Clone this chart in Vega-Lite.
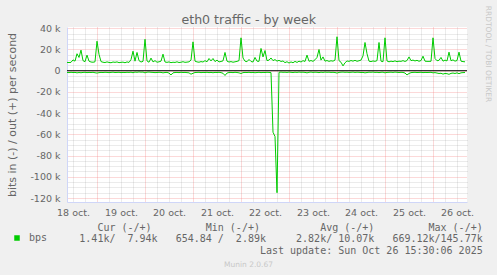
{
"$schema": "https://vega.github.io/schema/vega-lite/v6.json",
"width": 400, "height": 175,
"autosize": {"type": "none"},
"padding": {"left": 67, "top": 27, "right": 30, "bottom": 73},
"background": "#F0F0F0",
"config": {
  "view": {"fill": "#FFFFFF", "stroke": null},
  "font": "DejaVu Sans",
  "axis": {"labelFont": "DejaVu Sans", "titleFont": "DejaVu Sans", "labelColor": "#666666", "titleColor": "#666666", "titleFontWeight": "normal", "ticks": false, "gridDash": [1, 1], "gridWidth": 1, "labelFontSize": 9.5, "domain": false}
},
"datasets": {"traffic": [
{"t":"2025-10-18T09:00Z","out":7800,"inbound":-1600},
{"t":"2025-10-18T10:00Z","out":7700,"inbound":-1800},
{"t":"2025-10-18T11:00Z","out":7900,"inbound":-1500},
{"t":"2025-10-18T12:00Z","out":10200,"inbound":-1700},
{"t":"2025-10-18T13:00Z","out":9000,"inbound":-1600},
{"t":"2025-10-18T14:00Z","out":16000,"inbound":-2000},
{"t":"2025-10-18T15:00Z","out":12500,"inbound":-1700},
{"t":"2025-10-18T16:00Z","out":19400,"inbound":-1900},
{"t":"2025-10-18T17:00Z","out":9500,"inbound":-1600},
{"t":"2025-10-18T18:00Z","out":8500,"inbound":-1500},
{"t":"2025-10-18T19:00Z","out":14700,"inbound":-1800},
{"t":"2025-10-18T20:00Z","out":9000,"inbound":-1600},
{"t":"2025-10-18T21:00Z","out":8200,"inbound":-1700},
{"t":"2025-10-18T22:00Z","out":8000,"inbound":-1500},
{"t":"2025-10-18T23:00Z","out":8400,"inbound":-1900},
{"t":"2025-10-19T00:00Z","out":27800,"inbound":-2200},
{"t":"2025-10-19T01:00Z","out":15500,"inbound":-1800},
{"t":"2025-10-19T02:00Z","out":8600,"inbound":-1600},
{"t":"2025-10-19T03:00Z","out":8000,"inbound":-1700},
{"t":"2025-10-19T04:00Z","out":7700,"inbound":-1500},
{"t":"2025-10-19T05:00Z","out":8300,"inbound":-1600},
{"t":"2025-10-19T06:00Z","out":7800,"inbound":-1800},
{"t":"2025-10-19T07:00Z","out":7500,"inbound":-1600},
{"t":"2025-10-19T08:00Z","out":8200,"inbound":-1400},
{"t":"2025-10-19T09:00Z","out":7900,"inbound":-1700},
{"t":"2025-10-19T10:00Z","out":8300,"inbound":-1600},
{"t":"2025-10-19T11:00Z","out":7600,"inbound":-1500},
{"t":"2025-10-19T12:00Z","out":7900,"inbound":-1800},
{"t":"2025-10-19T13:00Z","out":8100,"inbound":-1600},
{"t":"2025-10-19T14:00Z","out":7500,"inbound":-1700},
{"t":"2025-10-19T15:00Z","out":8300,"inbound":-1500},
{"t":"2025-10-19T16:00Z","out":7800,"inbound":-1600},
{"t":"2025-10-19T17:00Z","out":10500,"inbound":-1400},
{"t":"2025-10-19T18:00Z","out":18400,"inbound":-1900},
{"t":"2025-10-19T19:00Z","out":9000,"inbound":-1300},
{"t":"2025-10-19T20:00Z","out":17200,"inbound":-1500},
{"t":"2025-10-19T21:00Z","out":9500,"inbound":-1200},
{"t":"2025-10-19T22:00Z","out":8200,"inbound":-1400},
{"t":"2025-10-19T23:00Z","out":8800,"inbound":-1300},
{"t":"2025-10-20T00:00Z","out":29600,"inbound":-2000},
{"t":"2025-10-20T01:00Z","out":9200,"inbound":-1400},
{"t":"2025-10-20T02:00Z","out":8000,"inbound":-1300},
{"t":"2025-10-20T03:00Z","out":11900,"inbound":-1500},
{"t":"2025-10-20T04:00Z","out":8300,"inbound":-1600},
{"t":"2025-10-20T05:00Z","out":9500,"inbound":-1800},
{"t":"2025-10-20T06:00Z","out":8000,"inbound":-1700},
{"t":"2025-10-20T07:00Z","out":8400,"inbound":-1500},
{"t":"2025-10-20T08:00Z","out":9000,"inbound":-1600},
{"t":"2025-10-20T09:00Z","out":15600,"inbound":-2000},
{"t":"2025-10-20T10:00Z","out":8200,"inbound":-1700},
{"t":"2025-10-20T11:00Z","out":7900,"inbound":-1600},
{"t":"2025-10-20T12:00Z","out":8300,"inbound":-2200},
{"t":"2025-10-20T13:00Z","out":7600,"inbound":-4000},
{"t":"2025-10-20T14:00Z","out":8000,"inbound":-2000},
{"t":"2025-10-20T15:00Z","out":7800,"inbound":-1700},
{"t":"2025-10-20T16:00Z","out":8400,"inbound":-1600},
{"t":"2025-10-20T17:00Z","out":7700,"inbound":-1800},
{"t":"2025-10-20T18:00Z","out":8000,"inbound":-1500},
{"t":"2025-10-20T19:00Z","out":8500,"inbound":-1700},
{"t":"2025-10-20T20:00Z","out":7900,"inbound":-1600},
{"t":"2025-10-20T21:00Z","out":8100,"inbound":-1800},
{"t":"2025-10-20T22:00Z","out":8400,"inbound":-2000},
{"t":"2025-10-20T23:00Z","out":10000,"inbound":-3300},
{"t":"2025-10-21T00:00Z","out":27200,"inbound":-2400},
{"t":"2025-10-21T01:00Z","out":9000,"inbound":-1700},
{"t":"2025-10-21T02:00Z","out":8300,"inbound":-1600},
{"t":"2025-10-21T03:00Z","out":8000,"inbound":-1500},
{"t":"2025-10-21T04:00Z","out":8600,"inbound":-1800},
{"t":"2025-10-21T05:00Z","out":8200,"inbound":-1600},
{"t":"2025-10-21T06:00Z","out":9500,"inbound":-1700},
{"t":"2025-10-21T07:00Z","out":8400,"inbound":-1500},
{"t":"2025-10-21T08:00Z","out":11500,"inbound":-1800},
{"t":"2025-10-21T09:00Z","out":9200,"inbound":-1600},
{"t":"2025-10-21T10:00Z","out":11500,"inbound":-1900},
{"t":"2025-10-21T11:00Z","out":8600,"inbound":-1600},
{"t":"2025-10-21T12:00Z","out":10000,"inbound":-1700},
{"t":"2025-10-21T13:00Z","out":8300,"inbound":-1500},
{"t":"2025-10-21T14:00Z","out":8700,"inbound":-1800},
{"t":"2025-10-21T15:00Z","out":9300,"inbound":-2400},
{"t":"2025-10-21T16:00Z","out":17200,"inbound":-4500},
{"t":"2025-10-21T17:00Z","out":9000,"inbound":-2200},
{"t":"2025-10-21T18:00Z","out":8200,"inbound":-1700},
{"t":"2025-10-21T19:00Z","out":8600,"inbound":-1600},
{"t":"2025-10-21T20:00Z","out":8000,"inbound":-1800},
{"t":"2025-10-21T21:00Z","out":8400,"inbound":-1500},
{"t":"2025-10-21T22:00Z","out":8800,"inbound":-1700},
{"t":"2025-10-21T23:00Z","out":9500,"inbound":-2000},
{"t":"2025-10-22T00:00Z","out":31000,"inbound":-2600},
{"t":"2025-10-22T01:00Z","out":12000,"inbound":-1800},
{"t":"2025-10-22T02:00Z","out":9000,"inbound":-1600},
{"t":"2025-10-22T03:00Z","out":8500,"inbound":-1700},
{"t":"2025-10-22T04:00Z","out":10600,"inbound":-1500},
{"t":"2025-10-22T05:00Z","out":8700,"inbound":-1800},
{"t":"2025-10-22T06:00Z","out":8200,"inbound":-1600},
{"t":"2025-10-22T07:00Z","out":12500,"inbound":-1900},
{"t":"2025-10-22T08:00Z","out":9000,"inbound":-1700},
{"t":"2025-10-22T09:00Z","out":8800,"inbound":-1500},
{"t":"2025-10-22T10:00Z","out":21000,"inbound":-1800},
{"t":"2025-10-22T11:00Z","out":13000,"inbound":-1600},
{"t":"2025-10-22T12:00Z","out":19000,"inbound":-1700},
{"t":"2025-10-22T13:00Z","out":9500,"inbound":-1500},
{"t":"2025-10-22T14:00Z","out":10000,"inbound":-1600},
{"t":"2025-10-22T15:00Z","out":12000,"inbound":-1800},
{"t":"2025-10-22T16:00Z","out":9500,"inbound":-58000},
{"t":"2025-10-22T17:00Z","out":10500,"inbound":-62000},
{"t":"2025-10-22T18:00Z","out":9000,"inbound":-115000},
{"t":"2025-10-22T19:00Z","out":9800,"inbound":-1500},
{"t":"2025-10-22T20:00Z","out":8700,"inbound":-1300},
{"t":"2025-10-22T21:00Z","out":9200,"inbound":-1500},
{"t":"2025-10-22T22:00Z","out":7600,"inbound":-1400},
{"t":"2025-10-22T23:00Z","out":8500,"inbound":-1600},
{"t":"2025-10-23T00:00Z","out":7200,"inbound":-1300},
{"t":"2025-10-23T01:00Z","out":8300,"inbound":-1500},
{"t":"2025-10-23T02:00Z","out":7500,"inbound":-1700},
{"t":"2025-10-23T03:00Z","out":8800,"inbound":-1400},
{"t":"2025-10-23T04:00Z","out":7800,"inbound":-1600},
{"t":"2025-10-23T05:00Z","out":9000,"inbound":-1300},
{"t":"2025-10-23T06:00Z","out":8200,"inbound":-1500},
{"t":"2025-10-23T07:00Z","out":9500,"inbound":-1400},
{"t":"2025-10-23T08:00Z","out":8700,"inbound":-1600},
{"t":"2025-10-23T09:00Z","out":14700,"inbound":-2000},
{"t":"2025-10-23T10:00Z","out":8900,"inbound":-1500},
{"t":"2025-10-23T11:00Z","out":9600,"inbound":-1300},
{"t":"2025-10-23T12:00Z","out":8800,"inbound":-1600},
{"t":"2025-10-23T13:00Z","out":10300,"inbound":-1400},
{"t":"2025-10-23T14:00Z","out":12500,"inbound":-1500},
{"t":"2025-10-23T15:00Z","out":20000,"inbound":-1800},
{"t":"2025-10-23T16:00Z","out":10000,"inbound":-1400},
{"t":"2025-10-23T17:00Z","out":13000,"inbound":-1600},
{"t":"2025-10-23T18:00Z","out":9000,"inbound":-1300},
{"t":"2025-10-23T19:00Z","out":9600,"inbound":-1500},
{"t":"2025-10-23T20:00Z","out":8800,"inbound":-1400},
{"t":"2025-10-23T21:00Z","out":9400,"inbound":-1600},
{"t":"2025-10-23T22:00Z","out":9000,"inbound":-1500},
{"t":"2025-10-23T23:00Z","out":10000,"inbound":-1700},
{"t":"2025-10-24T00:00Z","out":32000,"inbound":-2200},
{"t":"2025-10-24T01:00Z","out":9500,"inbound":-1600},
{"t":"2025-10-24T02:00Z","out":8000,"inbound":-1400},
{"t":"2025-10-24T03:00Z","out":4500,"inbound":-1300},
{"t":"2025-10-24T04:00Z","out":7500,"inbound":-1500},
{"t":"2025-10-24T05:00Z","out":9200,"inbound":-1400},
{"t":"2025-10-24T06:00Z","out":8800,"inbound":-1600},
{"t":"2025-10-24T07:00Z","out":9600,"inbound":-1500},
{"t":"2025-10-24T08:00Z","out":9000,"inbound":-1300},
{"t":"2025-10-24T09:00Z","out":9800,"inbound":-1600},
{"t":"2025-10-24T10:00Z","out":8900,"inbound":-1400},
{"t":"2025-10-24T11:00Z","out":9400,"inbound":-1500},
{"t":"2025-10-24T12:00Z","out":10000,"inbound":-1700},
{"t":"2025-10-24T13:00Z","out":14000,"inbound":-1600},
{"t":"2025-10-24T14:00Z","out":26600,"inbound":-2000},
{"t":"2025-10-24T15:00Z","out":16000,"inbound":-1700},
{"t":"2025-10-24T16:00Z","out":9000,"inbound":-1400},
{"t":"2025-10-24T17:00Z","out":8600,"inbound":-1500},
{"t":"2025-10-24T18:00Z","out":9200,"inbound":-1300},
{"t":"2025-10-24T19:00Z","out":8800,"inbound":-1600},
{"t":"2025-10-24T20:00Z","out":9500,"inbound":-1500},
{"t":"2025-10-24T21:00Z","out":26600,"inbound":-1800},
{"t":"2025-10-24T22:00Z","out":9000,"inbound":-1500},
{"t":"2025-10-24T23:00Z","out":8500,"inbound":-1400},
{"t":"2025-10-25T00:00Z","out":31000,"inbound":-2000},
{"t":"2025-10-25T01:00Z","out":9200,"inbound":-1600},
{"t":"2025-10-25T02:00Z","out":8400,"inbound":-1500},
{"t":"2025-10-25T03:00Z","out":9000,"inbound":-1400},
{"t":"2025-10-25T04:00Z","out":8600,"inbound":-1600},
{"t":"2025-10-25T05:00Z","out":9300,"inbound":-1300},
{"t":"2025-10-25T06:00Z","out":8500,"inbound":-1500},
{"t":"2025-10-25T07:00Z","out":9000,"inbound":-1700},
{"t":"2025-10-25T08:00Z","out":8800,"inbound":-1500},
{"t":"2025-10-25T09:00Z","out":9500,"inbound":-1600},
{"t":"2025-10-25T10:00Z","out":8700,"inbound":-2200},
{"t":"2025-10-25T11:00Z","out":9600,"inbound":-4000},
{"t":"2025-10-25T12:00Z","out":13000,"inbound":-2600},
{"t":"2025-10-25T13:00Z","out":9500,"inbound":-1800},
{"t":"2025-10-25T14:00Z","out":10000,"inbound":-1600},
{"t":"2025-10-25T15:00Z","out":9200,"inbound":-1500},
{"t":"2025-10-25T16:00Z","out":9800,"inbound":-1700},
{"t":"2025-10-25T17:00Z","out":8900,"inbound":-1600},
{"t":"2025-10-25T18:00Z","out":9600,"inbound":-1500},
{"t":"2025-10-25T19:00Z","out":13700,"inbound":-1800},
{"t":"2025-10-25T20:00Z","out":9000,"inbound":-1600},
{"t":"2025-10-25T21:00Z","out":8800,"inbound":-1700},
{"t":"2025-10-25T22:00Z","out":8800,"inbound":-1600},
{"t":"2025-10-25T23:00Z","out":8900,"inbound":-1500},
{"t":"2025-10-26T00:00Z","out":31000,"inbound":-2000},
{"t":"2025-10-26T01:00Z","out":11500,"inbound":-1800},
{"t":"2025-10-26T02:00Z","out":9400,"inbound":-2200},
{"t":"2025-10-26T03:00Z","out":9800,"inbound":-2600},
{"t":"2025-10-26T04:00Z","out":12500,"inbound":-2400},
{"t":"2025-10-26T05:00Z","out":9000,"inbound":-3200},
{"t":"2025-10-26T06:00Z","out":10000,"inbound":-2600},
{"t":"2025-10-26T07:00Z","out":9200,"inbound":-2800},
{"t":"2025-10-26T08:00Z","out":17500,"inbound":-3400},
{"t":"2025-10-26T09:00Z","out":9400,"inbound":-2500},
{"t":"2025-10-26T10:00Z","out":10200,"inbound":-2200},
{"t":"2025-10-26T11:00Z","out":9000,"inbound":-2600},
{"t":"2025-10-26T12:00Z","out":9600,"inbound":-2000},
{"t":"2025-10-26T13:00Z","out":17500,"inbound":-2800},
{"t":"2025-10-26T14:00Z","out":9000,"inbound":-2000},
{"t":"2025-10-26T15:00Z","out":8600,"inbound":-1800},
{"t":"2025-10-26T16:00Z","out":8400,"inbound":-1700}
]},
"layer": [
  {
    "layer": [
      {
        "data": {"name": "traffic"},
        "mark": {"type": "line", "strokeWidth": 1},
        "encoding": {
          "x": {"field": "t", "type": "temporal",
            "scale": {"type": "utc", "nice": false, "domain": [{"year": 2025, "month": 10, "date": 18, "hours": 9, "utc": true}, {"year": 2025, "month": 10, "date": 26, "hours": 17, "utc": true}]},
            "axis": {"orient": "bottom",
              "values": [
                {"year": 2025, "month": 10, "date": 18, "hours": 12, "utc": true}, {"year": 2025, "month": 10, "date": 18, "hours": 18, "utc": true},
                {"year": 2025, "month": 10, "date": 19, "hours": 6, "utc": true}, {"year": 2025, "month": 10, "date": 19, "hours": 12, "utc": true}, {"year": 2025, "month": 10, "date": 19, "hours": 18, "utc": true},
                {"year": 2025, "month": 10, "date": 20, "hours": 6, "utc": true}, {"year": 2025, "month": 10, "date": 20, "hours": 12, "utc": true}, {"year": 2025, "month": 10, "date": 20, "hours": 18, "utc": true},
                {"year": 2025, "month": 10, "date": 21, "hours": 6, "utc": true}, {"year": 2025, "month": 10, "date": 21, "hours": 12, "utc": true}, {"year": 2025, "month": 10, "date": 21, "hours": 18, "utc": true},
                {"year": 2025, "month": 10, "date": 22, "hours": 6, "utc": true}, {"year": 2025, "month": 10, "date": 22, "hours": 12, "utc": true}, {"year": 2025, "month": 10, "date": 22, "hours": 18, "utc": true},
                {"year": 2025, "month": 10, "date": 23, "hours": 6, "utc": true}, {"year": 2025, "month": 10, "date": 23, "hours": 12, "utc": true}, {"year": 2025, "month": 10, "date": 23, "hours": 18, "utc": true},
                {"year": 2025, "month": 10, "date": 24, "hours": 6, "utc": true}, {"year": 2025, "month": 10, "date": 24, "hours": 12, "utc": true}, {"year": 2025, "month": 10, "date": 24, "hours": 18, "utc": true},
                {"year": 2025, "month": 10, "date": 25, "hours": 6, "utc": true}, {"year": 2025, "month": 10, "date": 25, "hours": 12, "utc": true}, {"year": 2025, "month": 10, "date": 25, "hours": 18, "utc": true},
                {"year": 2025, "month": 10, "date": 26, "hours": 6, "utc": true}, {"year": 2025, "month": 10, "date": 26, "hours": 12, "utc": true}
              ],
              "labelExpr": "utchours(datum.value) == 12 ? utcFormat(datum.value, '%d') + ' oct.' : ''",
              "labelFlush": false, "labelOverlap": false, "labelBound": false, "labelPadding": 5,
              "grid": true, "gridColor": "#8C8C8C", "gridOpacity": 0.35,
              "domain": true, "domainColor": "#CFD6F8",
              "title": "Munin 2.0.67", "titleFontSize": 7.5, "titleColor": "#C8C8C8", "titleX": 181, "titleY": 62, "titleAlign": "center", "titleBaseline": "middle", "titleAngle": 0}},
          "y": {"field": "out", "type": "quantitative",
            "scale": {"domain": [-123750, 41200], "nice": false, "zero": false},
            "axis": {"orient": "left", "values": [-120000, -100000, -80000, -60000, -40000, -20000, 0, 20000, 40000],
              "labelExpr": "datum.value === 0 ? '0' : (datum.value / 1000) + ' k'", "labelPadding": 7, "labelBaseline": "middle",
              "grid": true, "gridColor": "#F58080", "gridOpacity": 0.6,
              "domain": true, "domainColor": "#CFD6F8",
              "title": "bits in (-) / out (+) per second", "titleFontSize": 11, "titleX": -55, "titleY": 87.5, "titleAngle": 270, "titleAlign": "center", "titleBaseline": "middle"}},
          "color": {"datum": "bps", "scale": {"domain": ["bps"], "range": ["#00CC00"]},
            "legend": {"orient": "none", "legendX": -55, "legendY": 206, "title": null, "symbolType": "square", "symbolSize": 4, "symbolStrokeWidth": 3.5, "labelFont": "DejaVu Sans Mono", "labelFontSize": 10, "labelColor": "#666666", "labelOffset": 7}}
        }
      },
      {
        "data": {"name": "traffic"},
        "mark": {"type": "line", "strokeWidth": 1},
        "encoding": {
          "x": {"field": "t", "type": "temporal",
            "scale": {"type": "utc", "nice": false, "domain": [{"year": 2025, "month": 10, "date": 18, "hours": 9, "utc": true}, {"year": 2025, "month": 10, "date": 26, "hours": 17, "utc": true}]},
            "axis": {"orient": "top",
              "values": [
                {"year": 2025, "month": 10, "date": 19, "utc": true}, {"year": 2025, "month": 10, "date": 20, "utc": true},
                {"year": 2025, "month": 10, "date": 21, "utc": true}, {"year": 2025, "month": 10, "date": 22, "utc": true},
                {"year": 2025, "month": 10, "date": 23, "utc": true}, {"year": 2025, "month": 10, "date": 24, "utc": true},
                {"year": 2025, "month": 10, "date": 25, "utc": true}, {"year": 2025, "month": 10, "date": 26, "utc": true}
              ],
              "labels": false, "grid": true, "gridColor": "#F58080", "gridOpacity": 0.6, "domain": false,
              "title": "eth0 traffic - by week", "titleFontSize": 12.6, "titleX": 181.3, "titleY": -3.7, "titleAlign": "center", "titleBaseline": "alphabetic", "titleAngle": 0}},
          "y": {"field": "inbound", "type": "quantitative",
            "scale": {"domain": [-123750, 41200], "nice": false, "zero": false},
            "axis": {"orient": "right", "values": [35000, 30000, 25000, 15000, 10000, 5000, -5000, -10000, -15000, -25000, -30000, -35000, -45000, -50000, -55000, -65000, -70000, -75000, -85000, -90000, -95000, -105000, -110000, -115000],
              "labels": false, "grid": true, "gridColor": "#8C8C8C", "gridOpacity": 0.35, "domain": false,
              "title": "RRDTOOL / TOBI OETIKER", "titleFontSize": 7.5, "titleColor": "#C8C8C8", "titleX": 20, "titleY": 26.5, "titleAngle": 90, "titleAlign": "center", "titleBaseline": "middle"}},
          "color": {"datum": "bps"}
        }
      },
      {
        "data": {"values": [{}]},
        "mark": {"type": "rule", "color": "#000000", "strokeWidth": 1},
        "encoding": {"y": {"datum": 0, "axis": null}}
      }
    ],
    "resolve": {"axis": {"x": "independent", "y": "independent"}}
  },
  {
    "data": {"values": [
      {"line": 0, "text": "Cur (-/+)\u00a0\u00a0\u00a0\u00a0\u00a0\u00a0\u00a0\u00a0\u00a0Min (-/+)\u00a0\u00a0\u00a0\u00a0\u00a0\u00a0\u00a0\u00a0\u00a0\u00a0Avg (-/+)\u00a0\u00a0\u00a0\u00a0\u00a0\u00a0\u00a0\u00a0\u00a0Max (-/+)\u00a0"},
      {"line": 1, "text": "1.41k/\u00a0\u00a07.94k\u00a0\u00a0\u00a0654.84 /\u00a0\u00a02.89k\u00a0\u00a0\u00a0\u00a0\u00a02.82k/ 10.07k\u00a0\u00a0\u00a0669.12k/145.77k"},
      {"line": 2, "text": "Last update: Sun Oct 26 15:30:06 2025"}
    ]},
    "mark": {"type": "text", "align": "right", "baseline": "middle", "font": "DejaVu Sans Mono", "fontSize": 10, "color": "#666666"},
    "encoding": {
      "x": {"datum": 1, "type": "quantitative", "scale": {"domain": [0, 1], "range": [0, 415.7]}, "axis": null},
      "y": {"field": "line", "type": "quantitative", "scale": {"domain": [0, 2], "range": [200.7, 224]}, "axis": null},
      "text": {"field": "text"}
    }
  }
],
"resolve": {"scale": {"x": "independent", "y": "independent"}}
}
